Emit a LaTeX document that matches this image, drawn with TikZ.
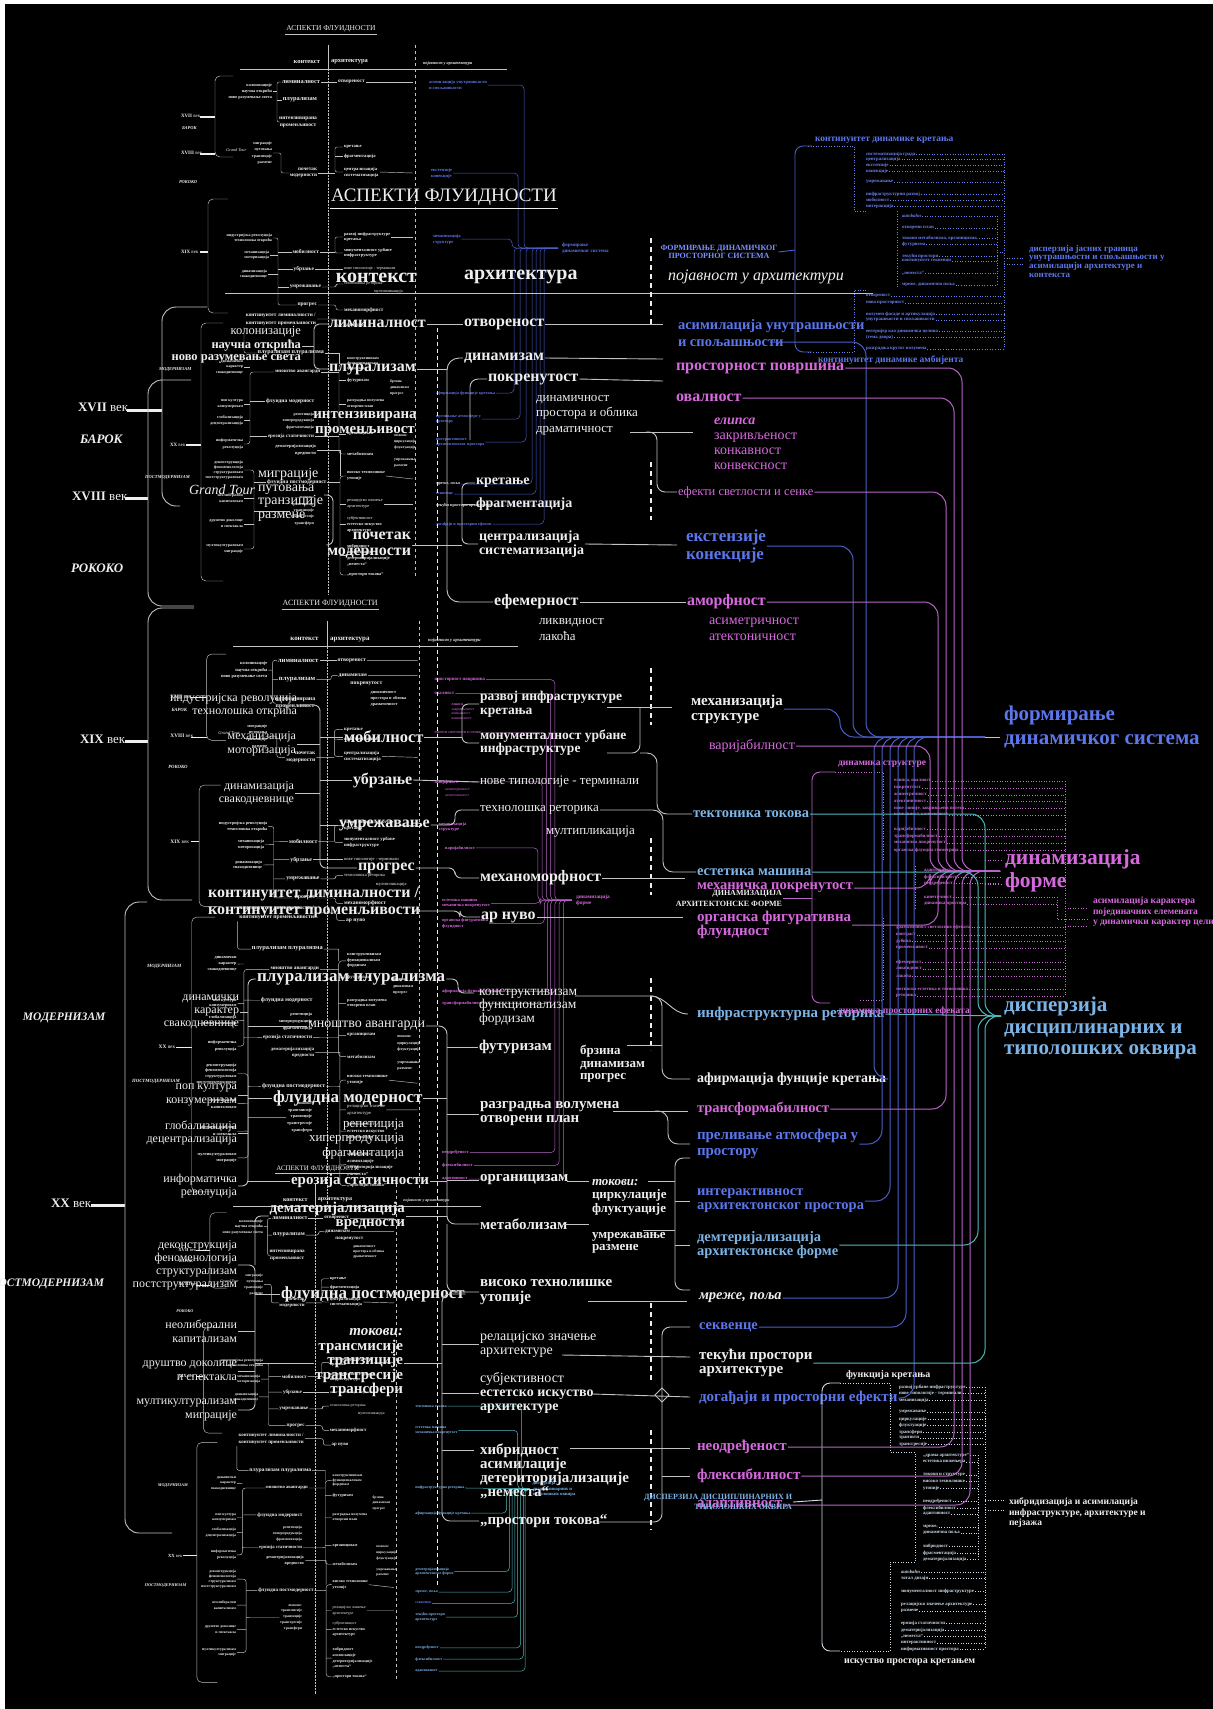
\documentclass[tikz,border=0pt]{standalone}
\usepackage{fontspec}
\setmainfont{Liberation Serif}
\definecolor{wt}{RGB}{238,238,238}
\definecolor{gr}{RGB}{195,195,195}
\definecolor{bl}{RGB}{92,118,235}
\definecolor{pk}{RGB}{215,105,222}
\definecolor{lb}{RGB}{125,180,230}
\definecolor{blL}{RGB}{75,95,205}
\definecolor{pkL}{RGB}{185,100,200}
\definecolor{cyL}{RGB}{80,185,190}
\definecolor{fm}{RGB}{125,145,255}
\definecolor{bll}{RGB}{110,130,240}
\definecolor{pkl}{RGB}{205,110,215}
\definecolor{wtl}{RGB}{205,220,232}
\newcommand\ff[2]{\fontsize{#1}{#2}\selectfont}
\newcommand\cc[5]{\draw[#1] (#2) -| (#3,#4) -- (#5,#4);}
\newcommand\itm[5]{\node[anchor=west] (#1) at (#2,#3) {#4}; \draw[dl] (#1.east) -- (#5,#3);}
\tikzset{
 every node/.style={inner sep=0pt, outer sep=1pt, text=wt, align=left},
 fB/.style 2 args={font={\ff{#1}{#2}\bfseries}},
 fR/.style 2 args={font={\ff{#1}{#2}}},
 fI/.style 2 args={font={\ff{#1}{#2}\itshape}},
 fBI/.style 2 args={font={\ff{#1}{#2}\bfseries\itshape}},
 ln/.style={draw=gr, line width=0.9pt},
 cl/.style={draw=gr, line width=0.45pt},
 dl/.style={draw=bll, dotted, line width=0.6pt},
 bc/.style={draw=blL, line width=1pt, rounded corners=14},
 pc/.style={draw=pkL, line width=1pt, rounded corners=14},
 yc/.style={draw=cyL, line width=1pt, rounded corners=14},
 cb/.style={draw=blL, line width=0.5pt, rounded corners=4},
 cp/.style={draw=pkL, line width=0.5pt, rounded corners=4},
 cy/.style={draw=cyL, line width=0.5pt, rounded corners=4},
 tick/.style={draw=wt, line width=1.1pt},
 bigtick/.style={draw=wt, line width=3pt}
}
% ---------------- compact copy ----------------
\newcommand\cpy[1]{%
\node[fR={7.5}{8}] (t) at (3,0) {АСПЕКТИ ФЛУИДНОСТИ};
\draw[cl] ([yshift=-0.6pt]t.south west) -- ([yshift=-0.6pt]t.south east);
\node[fB={6.5}{7}, anchor=east] (hk) at (-7,33) {контекст};
\node[fB={6.5}{7}, anchor=west] (ha) at (2,33) {архитектура};
\node[fBI={4.3}{5}, anchor=west] (hp) at (94,34) {појавност у архитектури};
\draw[cl] (-88,40) -- (179,40);
\draw[cl] (0,16) -- (0,40);
\draw[cl, densely dotted] (0,40) -- (0,565);
\draw[cl, dashed] (87,16) -- (87,548);
% timeline
\node[fB={5}{5}, anchor=west] (y17) at (-148,87) {XVII {\mdseries век}};
\draw[tick] (-128,88) -- (-113,88);
\node[fBI={4.5}{5}, anchor=west] (bar) at (-147,99) {БАРОК};
\node[fB={5}{5}, anchor=west] (y18) at (-148,124) {XVIII {\mdseries век}};
\draw[tick] (-128,125) -- (-113,125);
\node[fBI={4.5}{5}, anchor=west] (rok) at (-150,153) {РОКОКО};
\node[fB={5}{5}, anchor=west] (y19) at (-148,223) {XIX {\mdseries век}};
\draw[tick] (-128,223) -- (-120,223);
\node[fBI={4.5}{5}, anchor=west] (mod) at (-170,340) {МОДЕРНИЗАМ};
\node[fB={5}{5}, anchor=west] (y20) at (-159,416) {XX {\mdseries век}};
\draw[tick] (-142,416) -- (-127,416);
\node[fBI={4.5}{5}, anchor=west] (pmod) at (-184,448) {ПОСТМОДЕРНИЗАМ};
\draw[cl, rounded corners=5] (-95,47) -| (-113,128) -- (-95,128);
\draw[cl, rounded corners=5] (-100,170) -| (-120,284) -- (-100,284);
\draw[cl, rounded corners=5] (-105,294) -| (-127,552) -- (-105,552);
% XVII-XVIII context
\node[fB={4.2}{6}, anchor=east, align=right] (s1) at (-55,62) {колонизације\\научна открића\\ново разумевање света};
\node[fB={6.3}{7}, anchor=east] (lim) at (-7,53) {лиминалност};
\node[fB={6.3}{7}, anchor=east] (plu) at (-10,71) {плурализам};
\node[fB={5.5}{7}, anchor=east, align=center] (int) at (-10,93) {интензивирана\\променљивост};
\draw[cl, rounded corners=2] (lim.west) -| (-51,93) -- (int.west);
\draw[cl] (s1.east) -- (-51,62);
\draw[cl] (-51,71) -- (plu.west);
\node[fI={4.3}{5}, anchor=west] (gt) at (-103,121) {Grand Tour};
\node[fB={4}{6.3}, anchor=east, align=right] (s2) at (-55,124) {миграције\\путовања\\транзиције\\размене};
\node[fB={5.2}{6}, anchor=east, align=right] (poc) at (-10,144) {почетак\\модерности};
\draw[cl, rounded corners=2] (s2.east) -| (-47,144) -- (poc.west);
\node[fB={5.3}{6}, anchor=west] (otv) at (9,53) {отвореност};
\draw[cl] (lim.east) -- (otv.west);
\draw[cl] (otv.east) -- (85,53);
\ifnum#1>1
\node[fB={5.3}{6}, anchor=west] (din) at (10,67) {динамизам};
\node[fB={5.3}{6}, anchor=west] (pok) at (21,75) {покренутост};
\node[fB={4}{5.5}, anchor=west] (dnm) at (40,89) {динамичност\\простора и облика\\драматичност};
\draw[cl, rounded corners=2] (plu.east) -- (4,71) |- (din.west);
\draw[cl] (din.east) -- (85,67);
\fi
\node[fB={4.6}{5}, anchor=west] (kre) at (15,118) {кретање};
\node[fB={4.6}{5}, anchor=west] (fra) at (15,127) {фрагментација};
\node[fB={4.6}{6}, anchor=west] (cen) at (15,143) {централизација\\систематизација};
\draw[cl, rounded corners=2] (kre.west) -| (7,143) -- (cen.west);
\draw[cl] (7,127) -- (fra.west);
\draw[cl] (poc.east) -- (7,144);
\draw[cl] (cen.east) -- (85,144);
% XIX
\node[fB={4}{5.5}, anchor=east, align=right] (s3) at (-55,209) {индустријска револуција\\технолошка открића};
\node[fB={4}{5.5}, anchor=east, align=right] (s4) at (-58,226) {механизација\\моторизација};
\node[fB={4}{5.5}, anchor=east, align=right] (s5) at (-60,245) {динамизација\\свакодневнице};
\node[fB={5.5}{6}, anchor=east] (mob) at (-8,223) {мобилност};
\node[fB={5.5}{6}, anchor=east] (ubr) at (-13,240) {убрзање};
\node[fB={5.5}{6}, anchor=east] (umr) at (-6,258) {умрежавање};
\node[fB={5.5}{6}, anchor=east] (prg) at (-10,276) {прогрес};
\draw[cl, rounded corners=2] (s3.east) -| (-50,276) -- (prg.west);
\draw[cl] (s4.east) -- (-50,226);
\draw[cl] (-50,223) -- (mob.west);
\draw[cl] (s5.east) -- (-50,245);
\draw[cl] (-50,240) -- (ubr.west);
\draw[cl] (-50,258) -- (umr.west);
\node[fB={4.4}{5.5}, anchor=west] (raz) at (15,208) {развој инфраструктуре\\кретања};
\node[fB={4.4}{5.5}, anchor=west] (mon) at (15,224) {монументалност урбане\\инфраструктуре};
\draw[cl, rounded corners=2] (raz.west) -| (7,224) -- (mon.west);
\draw[cl] (mob.east) -- (7,223);
\draw[cl] (raz.east) -- (85,208);
\node[fR={4.2}{5}, anchor=west] (nov) at (15,240) {нове типологије - терминали};
\draw[cl] (ubr.east) -- (nov.west);
\node[fR={4.2}{5}, anchor=west] (tre) at (15,255) {технолошка реторика};
\node[fR={4.2}{5}, anchor=west] (mul) at (45,263) {мултипликација};
\draw[cl, rounded corners=2] (umr.east) -| (8,255) -- (tre.west);
\node[fB={5.2}{6}, anchor=west] (mhm) at (15,281) {механоморфност};
\draw[cl, rounded corners=2] (prg.east) -| (8,281) -- (mhm.west);
\node[fB={5.2}{6}, anchor=west] (arn) at (17,297) {ар нуво};
\node[fB={5.3}{8}, anchor=east] (knt) at (-11,290) {континуитет лиминалности /\\континуитет променљивости};
\draw[cl, rounded corners=2] (knt.east) -| (9,297) -- (arn.west);
% XX context
\node[fB={6}{6}, anchor=east] (plpl) at (-3,324) {плурализам плурализма};
\draw[cl, rounded corners=2] (-84,298) |- (plpl.west);
\node[fB={4}{5.5}, anchor=east, align=right] (x1) at (-84,338) {динамички\\карактер\\свакодневнице};
\node[fB={5}{5}, anchor=west] (mno) at (-54,343) {мноштво авангарди};
\node[fB={4}{5.5}, anchor=east, align=right] (x2) at (-84,375) {поп култура\\конзумеризам};
\node[fB={5.5}{6}, anchor=west] (flm) at (-63,372) {флуидна модерност};
\node[fB={4}{6}, anchor=east, align=right] (x3) at (-84,391) {глобализација\\децентрализација};
\node[fB={4}{6.5}, anchor=east, align=right] (rep) at (-13,392) {репетиција\\хиперпродукција\\фрагментација};
\node[fB={4}{6.5}, anchor=east, align=right] (x4) at (-84,415) {информатичка\\револуција};
\node[fB={5}{5}, anchor=west] (ero) at (-61,407) {ерозија статичности};
\node[fB={4.5}{6.5}, anchor=east, align=right] (dem) at (-11,421) {дематеријализација\\вредности};
\node[fB={4}{5.3}, anchor=east, align=right] (x5) at (-84,441) {деконструкција\\феноменологија\\структурализам\\постструктурализам};
\node[fB={5.5}{6}, anchor=west] (fpm) at (-62,453) {флуидна постмодерност};
\node[fB={4}{6}, anchor=east, align=right] (x6) at (-84,469) {неолиберални\\капитализам};
\node[fB={4}{6.3}, anchor=east, align=right] (tok) at (-13,482) {{\itshape токови:}\\трансмисије\\транзиције\\трансгресије\\трансфери};
\node[fB={4}{6}, anchor=east, align=right] (x7) at (-84,495) {друштво доколице\\и спектакла};
\node[fB={4}{6}, anchor=east, align=right] (x8) at (-84,520) {мултикултурализам\\миграције};
\draw[cl, rounded corners=3] (mno.west) -| (-78,415) -- (x4.east);
\draw[cl] (-78,372) -- (flm.west);
\draw[cl] (-78,407) -- (ero.west);
\draw[cl] (x1.east) -- (-78,338);
\draw[cl] (x2.east) -- (-78,375);
\draw[cl] (x3.east) -- (-78,391);
\draw[cl, rounded corners=3] (x5.east) -| (-74,520) -- (x8.east);
\draw[cl] (-74,453) -- (fpm.west);
\draw[cl] (x6.east) -- (-74,469);
\draw[cl] (x7.east) -- (-74,495);
\draw[cl] (-74,482) -- (tok.west);
% XX architecture
\node[fB={4}{5.3}, anchor=west] (kns) at (18,335) {конструктивизам\\функционализам\\фордизам};
\node[fB={4.5}{5}, anchor=west] (fut) at (18,351) {футуризам};
\node[fB={3.8}{6}, anchor=west] (brz) at (61,359) {брзина\\динамизам\\прогрес};
\node[fB={4}{5.5}, anchor=west] (rzg) at (18,375) {разградња волумена\\отворени план};
\node[fB={4.5}{5}, anchor=west] (org) at (18,405) {органицизам};
\node[fB={3.8}{6}, anchor=west] (tk2) at (65,413) {{\itshape токови:}\\циркулације\\флуктуације};
\node[fB={4.5}{5}, anchor=west] (met) at (18,425) {метаболизам};
\node[fB={3.8}{6}, anchor=west] (um2) at (65,434) {умрежавање\\размене};
\node[fB={4.3}{6}, anchor=west] (vis) at (18,447) {високо технолишке\\утопије};
\node[fR={4.3}{6}, anchor=west] (rel) at (18,475) {релацијско значење\\архитектуре};
\node[fB={4.3}{6}, anchor=west] (sub) at (18,495) {{\mdseries субјективност}\\естетско искуство\\архитектуре};
\node[fB={4.3}{6}, anchor=west] (hib) at (18,526) {хибридност\\асимилације\\детериторијализације\\„неместа“};
\node[fB={4.3}{6}, anchor=west] (prt) at (18,546) {„простори токова“};
\draw[cl, rounded corners=3] (kns.west) -| (11,425) -- (met.west);
\draw[cl] (11,351) -- (fut.west);
\draw[cl] (11,375) -- (rzg.west);
\draw[cl] (11,405) -- (org.west);
\draw[cl] (plpl.east) -- (11,324) -- (11,335);
\draw[cl] (mno.east) -- (11,343);
\draw[cl] (ero.east) -- (11,407);
\draw[cl, rounded corners=3] (vis.west) -| (12,546) -- (prt.west);
\draw[cl] (12,475) -- (rel.west);
\draw[cl] (12,495) -- (sub.west);
\draw[cl] (12,526) -- (hib.west);
\draw[cl] (dem.east) -- (12,421) -- (12,447);
\draw[cl] (fpm.east) -- (12,453);
\draw[cl] (vis.east) -- (85,450);
\draw[cl] (rel.east) -- (85,475);
% appearance - stage 1 : blue set
\ifnum#1=1
\node[fB={4.5}{6}, anchor=west, text=bl] (asim) at (100,56) {асимилација унутрашњости\\и спољашњости};
\node[fB={4.5}{6}, anchor=west, text=bl] (ext) at (102,144) {екстензије\\конекције};
\node[fB={4.5}{6}, anchor=west, text=bl] (mhs) at (104,210) {механизација\\структуре};
\node[fB={4.2}{5}, anchor=west, text=bl] (afi) at (107,364) {афирмација функције кретања};
\node[fB={4.2}{5}, anchor=west, text=bl] (pre) at (107,390) {преливање атмосфере у\\простору};
\node[fB={4.2}{5}, anchor=west, text=bl] (ina) at (107,413) {интерактивност\\архитектонског простора};
\node[fBI={4.2}{5}, anchor=west] (mrz) at (107,455) {мреже, поља};
\node[fB={4.2}{5}, anchor=west, text=bl] (skv) at (107,465) {секвенце};
\node[fB={4.2}{5}, anchor=west] (tkp) at (107,476) {текући простори архитектуре};
\node[fB={4.2}{5}, anchor=west, text=bl] (dog) at (107,495) {догађаји и просторни ефекти};
\node[fB={5}{6}, anchor=west, text=bl] (frm) at (233,219) {формирање\\динамичког система};
\cc{cb}{asim.east}{196}{219}{230}
\cc{cb}{ext.east}{190}{219}{230}
\cc{cb}{mhs.east}{184}{219}{230}
\cc{cb}{afi.east}{186}{219}{230}
\cc{cb}{pre.east}{192}{219}{230}
\cc{cb}{ina.east}{198}{219}{230}
\cc{cb}{mrz.east}{204}{219}{230}
\cc{cb}{skv.east}{208}{219}{230}
\cc{cb}{tkp.east}{212}{219}{230}
\cc{cb}{dog.east}{216}{219}{230}
\fi
% stage 2 : pink set
\ifnum#1=2
\node[fB={4.5}{5}, anchor=west, text=pk] (ppo) at (100,71) {просторност површина};
\node[fB={4.5}{5}, anchor=west, text=pk] (ova) at (100,84) {овалност};
\node[fR={3.6}{4.5}, anchor=west, text=pk] (eli) at (116,101) {{\bfseries\itshape елипса}\\закривљеност\\конкавност\\конвексност};
\node[fR={4}{5}, anchor=west, text=pk] (efs) at (100,121) {ефекти светлости и сенке};
\node[fB={4.5}{5}, anchor=west, text=pk] (amo) at (100,167) {аморфност};
\node[fR={3.6}{5}, anchor=west, text=pk] (asm) at (110,177) {асиметричност\\атектоничност};
\node[fB={4.2}{5}, anchor=west, text=pk] (mhs) at (104,209) {механизација\\структуре};
\node[fB={4.2}{5}, anchor=west, text=pk] (var) at (110,229) {варијабилност};
\node[fB={4.2}{5}, anchor=west, text=pk] (mpk) at (107,281) {естетика машина\\механичка покренутост};
\node[fB={4.2}{5}, anchor=west, text=pk] (ofl) at (107,300) {органска фигуративна\\флуидност};
\node[fB={4.2}{5}, anchor=west, text=pk] (afp) at (107,364) {афирмација функције кретања};
\node[fB={4.2}{5}, anchor=west, text=pk] (trf) at (107,375) {трансформабилност};
\node[fB={4.2}{5}, anchor=west, text=pk] (neo) at (107,515) {неодређеност};
\node[fB={4.2}{5}, anchor=west, text=pk] (flx) at (107,527) {флексибилност};
\node[fB={4.2}{5}, anchor=west, text=pk] (adp) at (107,540) {адаптивност};
\node[fB={5}{6}, anchor=west, text=pk] (dfo) at (233,278) {динамизација\\форме};
\cc{cp}{ppo.east}{214}{278}{230}
\cc{cp}{ova.east}{210}{278}{230}
\cc{cp}{efs.east}{206}{278}{230}
\cc{cp}{amo.east}{202}{278}{230}
\cc{cp}{var.east}{198}{278}{230}
\cc{cp}{mpk.east}{200}{278}{230}
\cc{cp}{ofl.east}{204}{278}{230}
\cc{cp}{afp.east}{207}{278}{230}
\cc{cp}{trf.east}{210}{278}{230}
\cc{cp}{neo.east}{214}{278}{230}
\cc{cp}{flx.east}{218}{278}{230}
\cc{cp}{adp.east}{222}{278}{230}
\fi
% stage 3 : cyan set
\ifnum#1=3
\node[fB={4.2}{5}, anchor=west, text=lb] (tek) at (107,255) {тектоника токова};
\node[fB={4.2}{5}, anchor=west, text=lb] (est) at (107,281) {естетика машина\\механичка покренутост};
\node[fB={4.2}{5}, anchor=west, text=lb] (ifr) at (107,343) {инфраструктурна реторика};
\node[fB={4.2}{5}, anchor=west, text=lb] (afc) at (107,370) {афирмација функције кретања};
\node[fB={4.2}{5}, anchor=west, text=lb] (dmt) at (107,433) {демтеријализација\\архитектонске форме};
\node[fBI={4.2}{5}, anchor=west, text=lb] (mrc) at (107,455) {мреже, поља};
\node[fB={4.2}{5}, anchor=west, text=bl] (skc) at (107,467) {секвенце};
\node[fB={4.2}{5}, anchor=west, text=lb] (tku) at (107,482) {текући простори\\архитектуре};
\node[fB={4.2}{5}, anchor=west, text=lb] (nec) at (107,515) {неодређеност};
\node[fB={4.2}{5}, anchor=west, text=lb] (flc) at (107,527) {флексибилност};
\node[fB={4.2}{5}, anchor=west, text=lb] (adc) at (107,540) {адаптивност};
\node[fB={5}{6}, anchor=west, text=lb] (dis) at (233,344) {дисперзија\\дисциплинарних и\\типолошких оквира};
\cc{cy}{tek.east}{222}{344}{231}
\cc{cy}{est.east}{218}{344}{231}
\draw[cy] (ifr.east) -- (231,344);
\cc{cy}{afc.east}{206}{344}{231}
\cc{cy}{dmt.east}{209}{344}{231}
\cc{cy}{mrc.east}{212}{344}{231}
\cc{cy}{skc.east}{215}{344}{231}
\cc{cy}{tku.east}{218}{344}{231}
\cc{cy}{nec.east}{221}{344}{231}
\cc{cy}{flc.east}{224}{344}{231}
\cc{cy}{adc.east}{226}{344}{231}
\fi
}
\begin{document}
\begin{tikzpicture}[x=1pt, y=-1pt]
\fill[white] (0,0) rectangle (1213,1709);
\fill[black] (5,4) rectangle (1213,1709);
\useasboundingbox (0,0) rectangle (1213,1709);
% ---- three small copies ----
\begin{scope}[shift={(328,29)}, name prefix=A-]\cpy{1}\end{scope}
\begin{scope}[shift={(327,604)}, scale=1.065, transform shape, name prefix=B-]\cpy{2}\end{scope}
\begin{scope}[shift={(315,1169)}, scale=0.93, transform shape, name prefix=C-]\cpy{3}\end{scope}
% ================= MAIN LAYER =================
\node[fR={19}{20}, anchor=west] (mT) at (330,197) {АСПЕКТИ ФЛУИДНОСТИ};
\draw[wt, line width=0.8pt] ([yshift=-2pt]mT.south west) -- ([yshift=-2pt]mT.south east);
\node[fB={20}{20}, anchor=east] (mK) at (418,278) {контекст};
\node[fB={20}{20}, anchor=west] (mA) at (463,277) {архитектура};
\node[fI={16}{16}, anchor=west] (mP) at (667,277) {појавност у архитектури};
\draw[ln] (225,293) -- (873,293);
\foreach \a/\b in {238/325, 462/520, 668/725, 838/895, 978/1050, 1303/1380, 1430/1530}
  \draw[wt, line width=1.3pt, dash pattern=on 5pt off 4pt] (651,\a) -- (651,\b);
\draw[wt, line width=1pt, dash pattern=on 4pt off 3pt] (437,328) -- (437,1587);
% timeline
\node[anchor=west] (m17) at (77,407) {\ff{13}{13}\bfseries XVII {\mdseries век}};
\draw[bigtick] (127,410) -- (162,410);
\node[fBI={13}{13}, anchor=west] (mBar) at (79,439) {БАРОК};
\node[anchor=west] (m18) at (71,496) {\ff{13}{13}\bfseries XVIII {\mdseries век}};
\draw[bigtick] (125,498) -- (148,498);
\node[fBI={13}{13}, anchor=west] (mRok) at (70,568) {РОКОКО};
\node[anchor=west] (m19) at (79,739) {\ff{13}{13}\bfseries XIX {\mdseries век}};
\draw[bigtick] (125,741) -- (148,741);
\node[fBI={11.5}{12}, anchor=west] (mMod) at (22,1018) {МОДЕРНИЗАМ};
\node[anchor=west] (m20) at (50,1203) {\ff{13}{13}\bfseries XX {\mdseries век}};
\draw[bigtick] (91,1205) -- (125,1205);
\node[fBI={11.5}{12}, anchor=east] (mPmod) at (105,1284) {ПОСТМОДЕРНИЗАМ};
\draw[ln, rounded corners=14] (207,307) -| (162,506) -- (180,506);
\draw[ln, rounded corners=14] (191,380) -| (148,606) -- (194,606);
\draw[ln, rounded corners=14] (194,608) -| (148,900) -- (192,900);
\draw[ln, rounded corners=14] (147,902) -| (125,1533) -- (172,1533);
% XVII-XVIII context
\node[fR={12.5}{13}, anchor=east] (mS1a) at (302,332) {колонизације};
\node[fB={12.5}{13}, anchor=east] (mS1b) at (302,346) {научна открића};
\node[fB={12.5}{13}, anchor=east] (mS1c) at (302,359) {ново разумевање света};
\node[fB={16}{17}, anchor=west] (mLim) at (328,324) {лиминалност};
\node[fB={16}{17}, anchor=west] (mPlu) at (328,369) {плурализам};
\node[fB={15}{15}, align=center] (mInt) at (365,424) {интензивирана\\променљивост};
\draw[ln, rounded corners=5] (mLim.west) -| (314,369) -- (mPlu.west);
\draw[ln] (mS1b.east) -- (314,346);
\node[fI={14}{14}, anchor=west] (mGT) at (188,490) {Grand Tour};
\node[fR={14}{13.5}, anchor=west] (mS2) at (257,495) {миграције\\путовања\\транзиције\\размене};
\node[fB={16}{16}, anchor=east, align=right] (mPoc) at (412,545) {почетак\\модерности};
\draw[ln, rounded corners=6] (mS2.east) -- (333,495) |- (mPoc.west);
% XVII-XVIII architecture
\node[fB={16}{17}, anchor=west] (mOtv) at (463,324) {отвореност};
\draw[ln] (mLim.east) -- (mOtv.west);
\node[fB={16}{17}, anchor=west] (mDin) at (463,358) {динамизам};
\node[fB={16}{17}, anchor=west] (mPok) at (487,379) {покренутост};
\node[fR={13}{15.5}, anchor=west] (mDnm) at (535,415) {динамичност\\простора и облика\\драматичност};
\node[fB={14}{14}, anchor=west] (mKre) at (475,483) {кретање};
\node[fB={14}{14}, anchor=west] (mFra) at (475,504) {фрагментација};
\node[fB={14}{14}, anchor=west] (mCen) at (478,544) {централизација\\систематизација};
\node[fB={16}{17}, anchor=west] (mEfe) at (493,602) {ефемерност};
\node[fR={13}{16}, anchor=west] (mLik) at (538,629) {ликвидност\\лакоћа};
\draw[ln, rounded corners=12] (mDin.west) -| (447,602) -- (mEfe.west);
\draw[ln] (mPlu.east) -- (447,369);
\draw[ln, rounded corners=8] (470,440) |- (mPok.west);
\draw[ln, rounded corners=6] (mKre.west) -| (462,544) -- (mCen.west);
\draw[ln] (462,504) -- (mFra.west);
\draw[ln] (mPoc.east) -- (462,545);
% XVII-XVIII appearance
\node[fB={14.5}{17}, anchor=west, text=bl] (mAsi) at (677,333) {асимилација унутрашњости\\и спољашњости};
\node[fB={16}{17}, anchor=west, text=pk] (mPpo) at (675,368) {просторност површина};
\node[fB={16}{17}, anchor=west, text=pk] (mOva) at (675,398) {овалност};
\node[fR={14}{15}, anchor=west, text=pk] (mEli) at (713,444) {{\bfseries\itshape елипса}\\закривљеност\\конкавност\\конвексност};
\node[fR={12.5}{13}, anchor=west, text=pk] (mEfs) at (677,492) {ефекти светлости и сенке};
\node[fB={17}{18}, anchor=west, text=bl] (mExt) at (685,546) {екстензије\\конекције};
\node[fB={16}{17}, anchor=west, text=pk] (mAmo) at (686,602) {аморфност};
\node[fR={14}{16}, anchor=west, text=pk] (mAsm) at (708,629) {асиметричност\\атектоничност};
\draw[ln] (mOtv.east) -- (663,324);
\draw[ln] (mDin.east) -- (663,359);
\draw[ln] (mPok.east) -- (663,381);
\draw[ln] (630,432) -- (693,432);
\draw[ln, rounded corners=8] (646,432) -| (657,492) -- (mEfs.west);
\draw[ln] (mCen.east) -- (677,545);
\draw[ln] (mEfe.east) -- (mAmo.west);
% XIX context
\node[fR={12}{13}, anchor=east, align=right] (mS3) at (298,705) {индустријска револуција\\технолошка открића};
\node[fR={12}{14}, anchor=east, align=right] (mS4) at (297,744) {механизација\\моторизација};
\node[fR={12}{13.5}, anchor=east, align=right] (mS5) at (295,793) {динамизација\\свакодневнице};
\node[fB={16.5}{17}, anchor=west] (mMob) at (343,737) {мобилност};
\node[fB={16}{17}, anchor=west] (mUbr) at (352,780) {убрзање};
\node[fB={16}{17}, anchor=west] (mUmr) at (338,825) {умрежавање};
\node[fB={16}{17}, anchor=west] (mPrg) at (357,868) {прогрес};
\node[fB={16}{17}, anchor=west] (mKnt) at (207,902) {континуитет лиминалности /\\континуитет променљивости};
\draw[ln, rounded corners=6] (mS3.east) -| (320,868) -- (mPrg.west);
\draw[ln] (mS4.east) -- (320,744);
\draw[ln] (320,737) -- (mMob.west);
\draw[ln] (mS5.east) -- (320,793);
\draw[ln] (320,780) -- (mUbr.west);
\draw[ln] (320,825) -- (mUmr.west);
% XIX architecture
\node[fB={13.5}{14}, anchor=west] (mRaz) at (479,704) {развој инфраструктуре\\кретања};
\node[fB={13.5}{13}, anchor=west] (mMon) at (479,743) {монументалност урбане\\инфраструктуре};
\node[fR={13}{13}, anchor=west] (mNov) at (479,782) {нове типологије - терминали};
\node[fR={13}{13}, anchor=west] (mTre) at (479,810) {технолошка реторика};
\node[fR={13}{13}, anchor=west] (mMul) at (545,832) {мултипликација};
\node[fB={16}{17}, anchor=west] (mMhm) at (479,878) {механоморфност};
\node[fB={16}{17}, anchor=west] (mArn) at (480,917) {ар нуво};
\draw[ln, rounded corners=6] (mRaz.west) -| (462,743) -- (mMon.west);
\draw[ln] (mMob.east) -- (462,737);
\draw[ln] (mUbr.east) -- (mNov.west);
\draw[ln, rounded corners=6] (mUmr.east) -| (455,810) -- (mTre.west);
\draw[ln, rounded corners=6] (mPrg.east) -| (455,878) -- (mMhm.west);
\draw[ln, rounded corners=6] (414,911) -| (460,917) -- (mArn.west);
% XIX appearance
\node[fB={15}{15}, anchor=west] (mMhs) at (690,709) {механизација\\структуре};
\node[fR={14}{14}, anchor=west, text=pk] (mVar) at (708,746) {варијабилност};
\node[fB={14.5}{15}, anchor=west, text=lb] (mTek) at (692,814) {тектоника токова};
\node[fB={14.5}{15}, anchor=west, text=lb] (mEst) at (696,872) {естетика машина};
\node[fB={14.5}{15}, anchor=west, text=pk] (mMpk) at (696,888) {механичка покренутост};
\node[fB={15}{13.5}, anchor=west, text=pk] (mOrg) at (696,925) {органска фигуративна\\флуидност};
\draw[ln] (607,707) -- (672,707);
\draw[ln, rounded corners=8] (607,753) -| (640,707);
\draw[ln, rounded corners=10] (640,753) -| (657,814) -- (mTek.west);
\draw[ln, rounded corners=10] (mTre.east) -| (663,872) -- (mEst.west);
\draw[ln] (mMhm.east) -- (685,878);
\draw[ln] (mArn.east) -- (683,917);
\node[fB={8}{11}, anchor=east, align=right] (mDAF) at (783,898) {ДИНАМИЗАЦИЈА\\АРХИТЕКТОНСКЕ ФОРМЕ};
% XX context
\node[fB={17}{17}, anchor=west] (mPlpl) at (256,979) {плурализам плурализма};
\node[fR={12}{13}, anchor=east, align=right] (mX1) at (240,1012) {динамички\\карактер\\свакодневнице};
\node[fR={14}{14}, anchor=west] (mMno) at (307,1026) {мноштво авангарди};
\node[fR={12}{14}, anchor=east, align=right] (mX2) at (238,1095) {поп култура\\конзумеризам};
\node[fB={17}{17}, anchor=west] (mFlm) at (272,1098) {флуидна модерност};
\node[fR={12}{13}, anchor=east, align=right] (mX3) at (238,1133) {глобализација\\децентрализација};
\node[fR={13}{14.5}, anchor=east, align=right] (mRep) at (405,1139) {репетиција\\хиперпродукција\\фрагментација};
\node[fR={12}{13}, anchor=east, align=right] (mX4) at (238,1186) {информатичка\\револуција};
\node[fB={15}{15}, anchor=west] (mEro) at (290,1181) {ерозија статичности};
\node[fB={15}{14}, anchor=east, align=right] (mDem) at (406,1216) {дематеријализација\\вредности};
\node[fR={12}{13}, anchor=east, align=right] (mX5) at (238,1265) {деконструкција\\феноменологија\\структурализам\\постструктурализам};
\node[fB={17}{17}, anchor=west] (mFpm) at (280,1294) {флуидна постмодерност};
\node[fR={12}{14}, anchor=east, align=right] (mX6) at (238,1331) {неолиберални\\капитализам};
\node[fB={15}{14.5}, anchor=east, align=right] (mTok) at (404,1363) {{\itshape токови:}\\трансмисије\\транзиције\\трансгресије\\трансфери};
\node[fR={12}{14}, anchor=east, align=right] (mX7) at (238,1371) {друштво доколице\\и спектакла};
\node[fR={12}{14}, anchor=east, align=right] (mX8) at (238,1410) {мултикултурализам\\миграције};
\draw[ln, rounded corners=6] (mPlpl.west) -| (248,1186) -- (mX4.east);
\draw[ln] (248,1026) -- (mMno.west);
\draw[ln] (248,1098) -- (mFlm.west);
\draw[ln] (248,1181) -- (mEro.west);
\draw[ln] (mX1.east) -- (248,1012);
\draw[ln] (mX2.east) -- (248,1095);
\draw[ln] (mX3.east) -- (248,1133);
\draw[ln, rounded corners=6] (mX5.east) -| (255,1410) -- (mX8.east);
\draw[ln, rounded corners=6] (255,1265) |- (mDem.west);
\draw[ln] (255,1294) -- (mFpm.west);
\draw[ln] (mX6.east) -- (255,1331);
\draw[ln] (mX7.east) -- (255,1371);
\draw[ln] (255,1363) -- (mTok.west);
% XX architecture
\node[fR={13.5}{13.5}, anchor=west] (mKns) at (478,1007) {конструктивизам\\функционализам\\фордизам};
\node[fB={15}{15}, anchor=west] (mFut) at (478,1047) {футуризам};
\node[fB={13}{12.5}, anchor=west] (mBrz) at (579,1064) {брзина\\динамизам\\прогрес};
\node[fB={15}{14}, anchor=west] (mRzg) at (479,1114) {разградња волумена\\отворени план};
\node[fB={15}{15}, anchor=west] (mOrc) at (479,1180) {органицизам};
\node[fB={13}{13.5}, anchor=west] (mTk2) at (591,1197) {{\itshape токови:}\\циркулације\\флуктуације};
\node[fB={15}{15}, anchor=west] (mMet) at (479,1224) {метаболизам};
\node[fB={13}{12.5}, anchor=west] (mUm2) at (591,1243) {умрежавање\\размене};
\node[fB={15}{15}, anchor=west] (mVis) at (479,1292) {високо технолишке\\утопије};
\node[fR={14}{14}, anchor=west] (mRel) at (479,1344) {релацијско значење\\архитектуре};
\node[fB={14}{14}, anchor=west] (mSub) at (479,1393) {{\mdseries субјективност}\\естетско искуство\\архитектуре};
\node[fB={15}{14}, anchor=west] (mHib) at (479,1471) {хибридност\\асимилације\\детериторијализације\\„неместа“};
\node[fB={15}{15}, anchor=west] (mPrt) at (479,1521) {„простори токова“};
\draw[ln, rounded corners=6] (mPlpl.east) -| (458,993) -- (474,993);
\draw[ln, rounded corners=8] (mMno.east) -| (447,1224) -- (mMet.west);
\draw[ln] (447,1047) -- (mFut.west);
\draw[ln] (447,1114) -- (mRzg.west);
\draw[ln] (447,1180) -- (mOrc.west);
\draw[ln] (mFlm.east) -- (447,1098);
\draw[ln] (mEro.east) -- (447,1181);
\draw[ln] (mDem.east) -- (447,1216);
\draw[ln, rounded corners=8] (447,1224) |- (mVis.west);
\draw[ln, rounded corners=8] (mFpm.east) -| (442,1521) -- (mPrt.west);
\draw[ln] (442,1344) -- (mRel.west);
\draw[ln] (442,1393) -- (mSub.west);
\draw[ln] (442,1450) -- (474,1450);
\draw[ln] (mTok.east) -- (442,1363);
\draw[ln] (567,1181) -- (589,1181);
\draw[ln] (563,1224) -- (589,1224);
% XX appearance
\node[fB={15}{15}, anchor=west, text=lb] (mIfr) at (696,1014) {инфраструктурна реторика};
\node[fB={14}{14}, anchor=west] (mAfi) at (696,1079) {афирмација фунције кретања};
\node[fB={14.5}{15}, anchor=west, text=pk] (mTrf) at (696,1109) {трансформабилност};
\node[fB={15}{16}, anchor=west, text=bl] (mPrl) at (696,1144) {преливање атмосфера у\\простору};
\node[fB={14.5}{14}, anchor=west, text=bl] (mIna) at (696,1201) {интерактивност\\архитектонског простора};
\node[fB={14.5}{14}, anchor=west, text=lb] (mDmt) at (696,1245) {демтеријализација\\архитектонске форме};
\node[fBI={14.5}{15}, anchor=west] (mMrz) at (698,1298) {мреже, поља};
\node[fB={14.5}{15}, anchor=west, text=bl] (mSkv) at (698,1327) {секвенце};
\node[fB={15}{14}, anchor=west] (mTku) at (698,1363) {текући простори\\архитектуре};
\node[fB={15}{15}, anchor=west, text=bl] (mDog) at (698,1398) {догађаји и просторни ефекти};
\node[fB={15}{15}, anchor=west, text=pk] (mNeo) at (696,1447) {неодређеност};
\node[fB={15}{15}, anchor=west, text=pk] (mFlx) at (696,1476) {флексибилност};
\node[fB={15}{15}, anchor=west, text=pk] (mAdp) at (696,1505) {адаптивност};
\node[fB={8}{10}, anchor=east, align=right, text=lb] (mDDT) at (793,1502) {ДИСПЕРЗИЈА ДИСЦИПЛИНАРНИХ И\\ТИПОЛОШКИХ ОКВИРА};
\draw[ln] (575,996) -- (650,996) to[out=0,in=180] (688,1014);
\draw[ln, rounded corners=10] (650,996) -| (662,1079) -- (690,1079);
\draw[ln] (627,1045) -- (662,1045);
\draw[ln] (613,1111) -- (688,1111);
\draw[ln, rounded corners=10] (655,1111) -| (668,1144) -- (690,1144);
\draw[ln, rounded corners=8] (690,1158) -| (675,1290) -- (690,1290);
\draw[ln] (675,1201) -- (690,1201);
\draw[ln] (675,1245) -- (690,1245);
\draw[ln] (648,1181) -- (675,1181);
\draw[ln] (643,1230) -- (675,1230);
\draw[ln] (588,1301) -- (687,1301);
\draw[ln, rounded corners=8] (690,1327) -| (662,1522) -- (598,1522);
\draw[ln] (562,1355) -- (690,1357);
\draw[ln] (593,1394) -- (690,1397);
\draw[ln] (570,1448) -- (690,1448);
\draw[ln] (662,1476) -- (690,1476);
\draw[ln] (655,1395) -- (662,1388) -- (669,1395) -- (662,1402) -- cycle;
% ---- right side labels ----
\node[fB={21}{24}, anchor=west, text=bl] (mFDS) at (1003,727) {формирање\\динамичког система};
\node[fB={21.5}{23}, anchor=west, text=pk] (mDF) at (1004,871) {динамизација\\форме};
\node[fB={9.5}{10.5}, anchor=west, text=pk] (mAK) at (1092,912) {асимилација карактера\\појединачних елемената\\у динамички карактер целине};
\node[fB={21}{21.5}, anchor=west, text=lb] (mDDO) at (1003,1028) {дисперзија\\дисциплинарних и\\типолошких оквира};
\node[fB={8}{8.5}, align=center, text=fm] (mFDPS) at (719,252) {ФОРМИРАЊЕ ДИНАМИЧКОГ\\ПРОСТОРНОГ СИСТЕМА};
% ---- block 1 (blue dotted lists) ----
\begin{scope}[every node/.append style={text=bll, font={\ff{4.8}{5}\bfseries}}]
\node[fB={9.5}{10}, anchor=west, text=bl] (kdk) at (814,140) {континуитет динамике кретања};
\node[fB={9.5}{10}, anchor=west, text=bl] (kda) at (817,360) {континуитет динамике амбијента};
\itm{b1a}{865}{154}{систематизација града}{1004}
\itm{b1b}{865}{159}{централизација}{1004}
\itm{b1c}{865}{165}{екстензије}{1004}
\itm{b1d}{865}{171}{конекције}{1004}
\itm{b1e}{865}{182}{умрежавање}{1004}
\itm{b1f}{865}{194}{инфраструктурни развој}{1004}
\itm{b1g}{865}{200}{мобилност}{1004}
\itm{b1h}{865}{206}{интеракција}{1004}
\itm{b1i}{901}{216}{\itshape autobahn}{997}
\itm{b1j}{901}{228}{отворени план}{997}
\itm{b1k}{901}{238}{токови метаболизма, органицизма,}{997}
\itm{b1l}{901}{244}{футуризма}{997}
\itm{b1m}{901}{256}{текући простори}{997}
\itm{b1n}{901}{261}{континуитет секвенци}{997}
\itm{b1o}{901}{273}{„неместа“}{997}
\itm{b1p}{901}{285}{мреже, динамична поља}{997}
\itm{b1q}{865}{296}{отвореност}{1004}
\itm{b1r}{865}{303}{нова просторност}{1004}
\itm{b1s}{865}{314}{волумен фасаде и артикулација}{1004}
\itm{b1t}{865}{320}{унутрашњости и спољашњости}{1004}
\itm{b1u}{865}{331}{ентеријер као динамичка целина}{1004}
\itm{b1v}{865}{337}{(тема двора)}{1004}
\itm{b1w}{865}{349}{разградња крутог волумена}{1004}
\draw[dl] (808,146) -- (854,146) -- (854,211) -- (866,211);
\draw[dl] (897,211) -- (897,288);
\draw[dl] (997,216) -- (997,285);
\draw[dl] (997,252) -- (1004,252);
\draw[dl] (866,290) -- (854,290) -- (854,352) -- (808,352);
\draw[dl] (1004,154) -- (1004,349);
\draw[dl] (1004,258) -- (1024,258);
\draw[dl] (1004,264) -- (1024,264);
\node[fB={9}{8.7}, anchor=west, text=bl] (djg) at (1028,261) {дисперзија јасних граница\\унутрашњости и спољашњости у\\асимилацији архитектуре и\\контекста};
\end{scope}
\draw[blL, line width=0.9pt, rounded corners=8] (812,146) -| (795,352) -- (812,352);
\draw[blL, line width=0.9pt] (mFDPS.east) -- (795,250);
% ---- block 2 (pink) ----
\begin{scope}[every node/.append style={text=pkl, font={\ff{4.8}{5}\bfseries}}]
\tikzset{dl/.style={draw=pkl, dotted, line width=0.6pt}}
\node[fB={9.5}{10}, anchor=west, text=pk] (dst) at (837,764) {динамика структуре};
\node[fB={9.5}{10}, anchor=west, text=pk] (dpe) at (837,1011) {динамика просторних ефеката};
\itm{b2a}{893}{781}{елипса, овалност}{1065}
\itm{b2b}{893}{788}{покренутост}{1065}
\itm{b2c}{893}{795}{асиметричност}{1065}
\itm{b2d}{893}{801}{атектоничност}{1065}
\itm{b2e}{893}{808}{нове линије, закривљени потези}{1065}
\itm{b2f}{893}{815}{конкавност, конвексност}{1065}
\itm{b2g}{893}{829}{варијабилност}{1065}
\itm{b2h}{893}{836}{трансформабилност}{1065}
\itm{b2i}{893}{843}{механичка покренутост}{1065}
\itm{b2j}{893}{850}{органска флуидна геометрија}{1065}
\itm{b2k}{923}{871}{адаптивност}{1000}
\itm{b2l}{923}{877}{флексибилност}{1000}
\itm{b2m}{923}{883}{неодређеност}{1000}
\itm{b2n}{923}{897}{кинетичност}{1057}
\itm{b2o}{923}{904}{динамика простора}{1057}
\itm{b2p}{895}{927}{драматичност светлосних ефеката}{1065}
\itm{b2q}{895}{935}{контраст}{1065}
\itm{b2r}{895}{941}{дубина}{1065}
\itm{b2s}{895}{948}{променљивост}{1065}
\itm{b2t}{895}{962}{ефемерност}{1065}
\itm{b2u}{895}{969}{ликвидност}{1065}
\itm{b2v}{895}{976}{лакоћа}{1065}
\itm{b2w}{895}{989}{мотивска естетика и технолошка}{1065}
\itm{b2x}{895}{996}{реторика}{1065}
\draw[dl] (835,772) -- (883,772) -- (883,860);
\draw[dl] (915,866) -- (915,908);
\draw[dl] (883,918) -- (883,1000) -- (860,1000);
\draw[dl] (1065,781) -- (1065,996);
\draw[dl] (1057,897) -- (1057,919) -- (1088,919);
\draw[dl] (1065,908) -- (1088,908);
\draw[dl] (1065,926) -- (1088,926);
\draw[dl] (985,860) -- (1001,860);
\draw[dl] (985,884) -- (1001,884);
\end{scope}
\draw[pkL, line width=0.9pt, rounded corners=8] (835,772) -| (812,1003) -- (830,1003);
\draw[pkL, line width=0.9pt] (mDAF.east) -- (812,898);
% ---- block 3 (white) ----
\begin{scope}[every node/.append style={text=wtl, font={\ff{4.8}{5}\bfseries}}]
\tikzset{dl/.style={draw=wtl, dotted, line width=0.6pt}}
\node[fB={10}{10}, anchor=west, text=wt] (fkr) at (845,1375) {функција кретања};
\node[fB={10}{10}, anchor=west, text=wt] (ipk) at (843,1662) {искуство простора кретањем};
\itm{b3a}{898}{1387}{развој урбане инфраструктуре}{985}
\itm{b3b}{898}{1393}{нове типологије - терминали}{985}
\itm{b3c}{898}{1400}{механизација}{985}
\itm{b3d}{898}{1412}{умрежавање}{985}
\itm{b3e}{898}{1419}{циркулације}{985}
\itm{b3f}{898}{1425}{флуктуације}{985}
\itm{b3g}{898}{1432}{трансфери}{985}
\itm{b3h}{898}{1438}{транзити}{985}
\itm{b3i}{898}{1444}{трансгресије}{985}
\itm{b3j}{922}{1455}{„драма архитектуре“}{978}
\itm{b3k}{922}{1462}{естетика инжењера}{978}
\itm{b3l}{922}{1475}{токови и структуре}{978}
\itm{b3m}{922}{1481}{високо технолошке}{978}
\itm{b3n}{922}{1488}{утопије}{978}
\itm{b3o}{922}{1501}{неодређеност}{978}
\itm{b3p}{922}{1508}{флексибилност}{978}
\itm{b3q}{922}{1514}{адаптивност}{978}
\itm{b3r}{922}{1527}{мреже,}{978}
\itm{b3s}{922}{1533}{динамична поља}{978}
\itm{b3t}{922}{1546}{хибридност}{978}
\itm{b3u}{922}{1553}{фрагментација}{978}
\itm{b3v}{922}{1559}{дематеријализација}{978}
\itm{b3w}{900}{1572}{\itshape autobahn}{985}
\itm{b3x}{900}{1578}{тотал дизајн}{985}
\itm{b3y}{900}{1591}{монументалност инфраструктуре}{985}
\itm{b3z}{900}{1604}{релацијско значење архитектуре}{985}
\itm{b3A}{900}{1611}{размене}{985}
\itm{b3B}{900}{1623}{ерозија статичности}{985}
\itm{b3C}{900}{1630}{дематеријализација}{985}
\itm{b3D}{900}{1636}{„неместа“}{985}
\itm{b3E}{900}{1643}{интерактивност}{985}
\itm{b3F}{900}{1649}{информативност простора}{985}
\draw[dl] (840,1383) -- (890,1383) -- (890,1452) -- (915,1452) -- (915,1562) -- (890,1562) -- (890,1651) -- (840,1651);
\draw[dl] (985,1387) -- (985,1649);
\draw[dl] (978,1455) -- (978,1559);
\draw[dl] (985,1500) -- (1005,1500);
\draw[dl] (985,1510) -- (1005,1510);
\node[fB={9.5}{10.5}, anchor=west, text=wt] (hia) at (1008,1513) {хибридизација и асимилација\\инфраструктуре, архитектуре и\\пејзажа};
\end{scope}
\draw[wtl, line width=0.9pt, rounded corners=8] (840,1383) -| (822,1651) -- (840,1651);
\draw[wtl, line width=0.9pt] (mDDT.east) -- (822,1500);
% ---- colored bundles ----
\cc{bc}{770,342}{866}{737}{985}
\cc{bc}{mExt.east}{853}{737}{985}
\cc{bc}{mMhs.east}{840}{737}{985}
\cc{bc}{mAfi.east}{874}{737}{985}
\cc{bc}{mPrl.east}{882}{737}{985}
\cc{bc}{mIna.east}{890}{737}{985}
\cc{bc}{mMrz.east}{898}{737}{985}
\cc{bc}{mSkv.east}{906}{737}{985}
\cc{bc}{mDog.east}{914}{737}{985}
\draw[ln] (985,737) -- (1000,737);
\cc{pc}{mPpo.east}{962}{871}{1000}
\cc{pc}{mOva.east}{954}{871}{1000}
\cc{pc}{mEfs.east}{946}{871}{1000}
\cc{pc}{mAmo.east}{938}{871}{1000}
\cc{pc}{mVar.east}{930}{871}{1000}
\cc{pc}{mMpk.east}{930}{871}{1000}
\cc{pc}{mOrg.east}{938}{871}{1000}
\cc{pc}{mTrf.east}{946}{871}{1000}
\cc{pc}{mNeo.east}{954}{871}{1000}
\cc{pc}{mFlx.east}{962}{871}{1000}
\cc{pc}{mAdp.east}{970}{871}{1000}
\cc{yc}{mTek.east}{985}{1016}{1001}
\cc{yc}{mEst.east}{978}{1016}{1001}
\draw[yc] (mIfr.east) -- (1001,1016);
\cc{yc}{mDmt.east}{978}{1016}{1001}
\cc{yc}{mTku.east}{985}{1016}{1001}
\end{tikzpicture}
\end{document}
